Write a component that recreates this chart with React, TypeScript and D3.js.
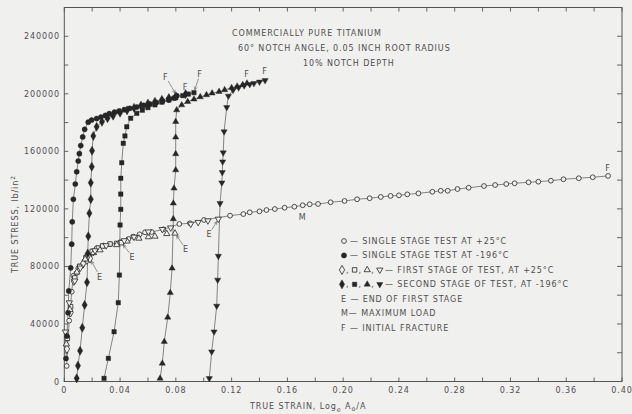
import React from "react";
import * as d3 from "d3";

// True strain (log_e A0/A) and true stress (lb/in^2) readings for each test.
const singleWarm: [number, number][] = [
  [0.0017, 10800], [0.0035, 42300], [0.0053, 62400], [0.0065, 73500], [0.0089, 75500],
  [0.0125, 80500], [0.0163, 85500], [0.02, 89000], [0.0232, 92600], [0.028, 94500],
  [0.0328, 95400], [0.04, 96800], [0.046, 99100], [0.0495, 100700], [0.054, 102300],
  [0.0579, 103700], [0.0627, 103900], [0.071, 105800], [0.0825, 109500], [0.0902, 110000],
  [0.1002, 112300], [0.1189, 115300], [0.1284, 116400], [0.133, 117600], [0.14, 118300],
  [0.145, 119200], [0.151, 119900], [0.158, 120800], [0.165, 121500], [0.171, 122500],
  [0.176, 123200], [0.182, 123400], [0.191, 124600], [0.201, 125500], [0.21, 126700],
  [0.219, 127400], [0.227, 128300], [0.234, 129000], [0.24, 129400], [0.246, 130100],
  [0.254, 130800], [0.264, 131900], [0.27, 132600], [0.275, 132600], [0.282, 133800],
  [0.29, 134700], [0.301, 135900], [0.309, 136600], [0.317, 137300], [0.323, 137800],
  [0.333, 138500], [0.34, 138900], [0.349, 139600], [0.358, 140600], [0.369, 141300],
  [0.379, 142000], [0.39, 142900],
];

const singleCold: [number, number][] = [
  [0.0012, 16000], [0.0019, 31600], [0.0027, 47800], [0.0032, 63000], [0.0046, 79000],
  [0.0053, 95500], [0.0057, 111000], [0.0065, 126700], [0.0079, 137300], [0.0089, 145800],
  [0.01, 153300], [0.0108, 158400], [0.0118, 164000], [0.0132, 170000], [0.0146, 175300],
  [0.0172, 180300], [0.0196, 181800], [0.0232, 182800], [0.0263, 183800], [0.0295, 185000],
  [0.0323, 186200], [0.036, 187200], [0.0392, 188000], [0.043, 189000], [0.047, 189900],
  [0.052, 190800], [0.057, 192000], [0.0615, 192900], [0.066, 193900], [0.0705, 194800],
  [0.075, 195700], [0.0785, 197000], [0.0806, 198700],
];

// First stage at +25 C (open markers), each ending at point E.
const firstDiamond: [number, number][] = [
  [0.0019, 22600], [0.0045, 48000], [0.0068, 70000], [0.0101, 78700], [0.0135, 82000],
  [0.0163, 84500], [0.0184, 85500],
];
const firstSquare: [number, number][] = [
  [0.0022, 30000], [0.0045, 52000], [0.0075, 72000], [0.011, 80000], [0.0155, 86000],
  [0.02, 90500], [0.0245, 92800], [0.0275, 94200], [0.0328, 95600], [0.0376, 96000],
  [0.041, 96500],
];
const firstTriUp: [number, number][] = [
  [0.0015, 26000], [0.004, 50000], [0.009, 76000], [0.015, 85000], [0.021, 89500],
  [0.0256, 91400], [0.0376, 95000], [0.045, 97500], [0.0535, 99500], [0.0603, 100500],
  [0.065, 100900], [0.0735, 102700], [0.0794, 103000],
];
const firstTriDown: [number, number][] = [
  [0.0008, 34500], [0.0036, 54800], [0.0075, 70000], [0.0115, 79000], [0.017, 87000],
  [0.022, 91000], [0.03, 94500], [0.043, 98000], [0.05, 100500], [0.0603, 104100],
  [0.0703, 105800], [0.0763, 106900], [0.0907, 109500], [0.096, 110700], [0.103, 111800],
  [0.1105, 113000],
];

// Second stage at -196 C (filled markers), each ending at fracture F.
const secondDiamond: [number, number][] = [
  [0.0089, 2200], [0.0098, 11000], [0.0113, 21400], [0.0129, 37400], [0.0146, 53200],
  [0.0163, 69000], [0.0168, 89000], [0.0172, 101000], [0.018, 117000], [0.019, 126700],
  [0.019, 138200], [0.0197, 149300], [0.0199, 160400], [0.0208, 170700], [0.0232, 177100],
  [0.027, 180500], [0.031, 183000], [0.035, 184800], [0.04, 186800], [0.045, 188500],
  [0.05, 190200], [0.055, 191800], [0.06, 193200], [0.065, 194500], [0.07, 195800],
  [0.075, 197000], [0.08, 198200], [0.087, 199800],
];
const secondSquare: [number, number][] = [
  [0.0285, 2200], [0.0316, 16100], [0.0357, 34600], [0.0387, 54800], [0.0395, 74000],
  [0.04, 108800], [0.0405, 119700], [0.0405, 130300], [0.0405, 141300], [0.0412, 152100],
  [0.0423, 165600], [0.0435, 170700], [0.0448, 177100], [0.0476, 183000], [0.052, 186400],
  [0.056, 188600], [0.06, 190400], [0.065, 192300], [0.07, 194200], [0.075, 195800],
  [0.08, 197300], [0.085, 198700], [0.089, 199800], [0.093, 200800],
];
const secondTriUp: [number, number][] = [
  [0.0687, 2200], [0.0703, 12600], [0.0717, 27700], [0.0742, 44600], [0.076, 61700],
  [0.0773, 78700], [0.0782, 113000], [0.0782, 123900], [0.0787, 134300], [0.0799, 147000],
  [0.0799, 158200], [0.0799, 169800], [0.0799, 180600], [0.0806, 188700], [0.0842, 192200],
  [0.0885, 194500], [0.093, 196200], [0.0975, 197800], [0.102, 199200], [0.106, 200400],
  [0.111, 201500], [0.115, 202700], [0.12, 204200], [0.124, 205200], [0.128, 206300],
  [0.131, 207300],
];
const secondTriDown: [number, number][] = [
  [0.104, 2200], [0.1057, 20700], [0.1074, 34600], [0.1093, 52500], [0.11, 70600],
  [0.1105, 87200], [0.1117, 123900], [0.113, 138200], [0.1133, 145400], [0.1136, 152800],
  [0.114, 159100], [0.1146, 173700], [0.1165, 190600], [0.1177, 198500], [0.121, 202500],
  [0.125, 204300], [0.129, 205700], [0.133, 206600], [0.136, 207300], [0.14, 208300],
  [0.144, 209300],
];

const xTicks = d3.range(0, 0.4001, 0.02);
const yTicks = d3.range(0, 260001, 20000);
const xLabelTicks = [0, 0.04, 0.08, 0.12, 0.16, 0.2, 0.24, 0.28, 0.32, 0.36, 0.4];
const yLabelTicks = [0, 40000, 80000, 120000, 160000, 200000, 240000];

const titleLines = [
  { text: "COMMERCIALLY PURE TITANIUM", x: 232, y: 36 },
  { text: "60° NOTCH ANGLE, 0.05 INCH ROOT RADIUS", x: 238, y: 51 },
  { text: "10% NOTCH DEPTH", x: 303, y: 66 },
];

const W = 632;
const H = 414;
const L = 64.3, R = 622, T = 7.5, B = 381.5;
const BG = "#f0f0ee";
const INK = "#262626";
const TXT = "#4f4f4f";
const FONT = "'DejaVu Sans', sans-serif";

type Shape = "circle" | "diamond" | "square" | "triUp" | "triDown";

function Marker({ shape, cx, cy, filled }: { shape: Shape; cx: number; cy: number; filled: boolean }) {
  const fill = filled ? INK : BG;
  const stroke = INK;
  const sw = filled ? 0.4 : 0.8;
  if (shape === "circle") {
    return <circle cx={cx} cy={cy} r={filled ? 2.6 : 2.4} fill={fill} stroke={stroke} strokeWidth={sw} />;
  }
  const sym =
    shape === "diamond" ? d3.symbolDiamond : shape === "square" ? d3.symbolSquare : d3.symbolTriangle;
  const size = shape === "diamond" ? 24 : shape === "square" ? 20 : 17;
  const rot = shape === "triDown" ? 180 : 0;
  const path = d3.symbol().type(sym).size(size)() as string;
  return (
    <path
      d={path}
      transform={`translate(${cx},${cy}) rotate(${rot})`}
      fill={fill}
      stroke={stroke}
      strokeWidth={sw}
    />
  );
}

export default function App() {
  const x = d3.scaleLinear().domain([0, 0.4]).range([L, R]);
  const y = d3.scaleLinear().domain([0, 260000]).range([B, T]);
  const line = d3
    .line<[number, number]>()
    .x((d) => x(d[0]))
    .y((d) => y(d[1]));

  const series: { data: [number, number][]; shape: Shape; filled: boolean; joined: boolean }[] = [
    { data: singleWarm, shape: "circle", filled: false, joined: true },
    { data: firstDiamond, shape: "diamond", filled: false, joined: false },
    { data: firstSquare, shape: "square", filled: false, joined: false },
    { data: firstTriUp, shape: "triUp", filled: false, joined: false },
    { data: firstTriDown, shape: "triDown", filled: false, joined: false },
    { data: singleCold, shape: "circle", filled: true, joined: true },
    { data: secondDiamond, shape: "diamond", filled: true, joined: true },
    { data: secondSquare, shape: "square", filled: true, joined: true },
    { data: secondTriUp, shape: "triUp", filled: true, joined: true },
    { data: secondTriDown, shape: "triDown", filled: true, joined: true },
  ];

  const last = (d: [number, number][]) => d[d.length - 1];

  // End-of-first-stage labels: offset of the letter from the final point of each run.
  const eLabels = [
    { p: last(firstDiamond), dx: 10, dy: 18 },
    { p: last(firstSquare), dx: 11, dy: 14 },
    { p: last(firstTriUp), dx: 11, dy: 16 },
    { p: last(firstTriDown), dx: -9, dy: 15 },
  ];
  // Fracture labels; arrow drawn when the letter sits off to the side.
  const fLabels = [
    { p: last(singleCold), dx: -11, dy: -19, arrow: true },
    { p: last(secondDiamond), dx: 0, dy: -7, arrow: false },
    { p: last(secondSquare), dx: 6, dy: -19, arrow: true },
    { p: last(secondTriUp), dx: 0, dy: -9, arrow: false },
    { p: last(secondTriDown), dx: 0, dy: -9, arrow: false },
    { p: last(singleWarm), dx: 0, dy: -8, arrow: false },
  ];
  const mPoint: [number, number] = [0.171, 122500];

  const arrowPath = (lx: number, ly: number, px: number, py: number) => {
    const dx = px - lx, dy = py - ly;
    const len = Math.hypot(dx, dy);
    const ux = dx / len, uy = dy / len;
    const sx = lx + ux * 5, sy = ly + uy * 5;
    const ex = px - ux * 3, ey = py - uy * 3;
    const hx1 = ex - ux * 3 - uy * 1.6, hy1 = ey - uy * 3 + ux * 1.6;
    const hx2 = ex - ux * 3 + uy * 1.6, hy2 = ey - uy * 3 - ux * 1.6;
    return `M${sx},${sy}L${ex},${ey}M${hx1},${hy1}L${ex},${ey}L${hx2},${hy2}`;
  };

  const legendY0 = 241;
  const legendStep = 14.45;
  const ly = (i: number) => legendY0 + i * legendStep;

  const textStyle = { fontFamily: FONT, fontSize: 8, fill: TXT, letterSpacing: 0.9 } as const;

  return (
    <svg
      width={W}
      height={H}
      style={{ position: "absolute", left: 0, top: 0, background: BG }}
      viewBox={`0 0 ${W} ${H}`}
    >
      <rect x={0} y={0} width={W} height={H} fill={BG} />

      {/* frame */}
      <rect x={L} y={T} width={R - L} height={B - T} fill="none" stroke="#555" strokeWidth={1} />

      {/* inward ticks on all four sides */}
      {xTicks.map((t, i) => (
        <g key={"xt" + i} stroke="#555" strokeWidth={0.9}>
          <line x1={x(t)} x2={x(t)} y1={B} y2={B - 4} />
          <line x1={x(t)} x2={x(t)} y1={T} y2={T + 4} />
        </g>
      ))}
      {yTicks.map((t, i) => (
        <g key={"yt" + i} stroke="#555" strokeWidth={0.9}>
          <line x1={L} x2={L + 4} y1={y(t)} y2={y(t)} />
          <line x1={R} x2={R - 5} y1={y(t)} y2={y(t)} />
        </g>
      ))}

      {/* tick labels */}
      {xLabelTicks.map((t, i) => (
        <text key={"xl" + i} x={x(t)} y={393} textAnchor="middle" {...textStyle}>
          {t === 0 ? "0" : d3.format(".2f")(t)}
        </text>
      ))}
      {yLabelTicks.map((t, i) => (
        <text key={"yl" + i} x={60} y={y(t) + 3} textAnchor="end" {...textStyle}>
          {String(t)}
        </text>
      ))}

      {/* axis titles */}
      <text x={250} y={409} {...textStyle}>
        TRUE STRAIN, Log
        <tspan fontSize={6.5} dy={2.5}>e</tspan>
        <tspan dy={-2.5}> A</tspan>
        <tspan fontSize={6.5} dy={2}>o</tspan>
        <tspan dy={-2}>/A</tspan>
      </text>
      <text transform="translate(18,273) rotate(-90)" {...textStyle}>
        TRUE STRESS, lb/in
        <tspan fontSize={6} dy={-3}>2</tspan>
      </text>

      {/* title */}
      {titleLines.map((l, i) => (
        <text key={"ti" + i} x={l.x} y={l.y} {...textStyle}>
          {l.text}
        </text>
      ))}

      {/* connecting lines */}
      {series
        .filter((s) => s.joined)
        .map((s, i) => (
          <path key={"ln" + i} d={line(s.data) as string} fill="none" stroke="#555" strokeWidth={0.7} />
        ))}

      {/* markers */}
      {series.map((s, i) => (
        <g key={"mk" + i}>
          {s.data.map((d, j) => (
            <Marker key={j} shape={s.shape} cx={x(d[0])} cy={y(d[1])} filled={s.filled} />
          ))}
        </g>
      ))}

      {/* E labels */}
      {eLabels.map((e, i) => {
        const px = x(e.p[0]), py = y(e.p[1]);
        const lx = px + e.dx, lyy = py + e.dy;
        return (
          <g key={"e" + i}>
            <path d={arrowPath(lx, lyy, px, py)} fill="none" stroke="#555" strokeWidth={0.6} />
            <text x={lx} y={lyy + 3} textAnchor="middle" {...textStyle}>E</text>
          </g>
        );
      })}

      {/* F labels */}
      {fLabels.map((f, i) => {
        const px = x(f.p[0]), py = y(f.p[1]);
        const lx = px + f.dx, lyy = py + f.dy;
        return (
          <g key={"f" + i}>
            {f.arrow && (
              <path d={arrowPath(lx, lyy, px, py)} fill="none" stroke="#555" strokeWidth={0.6} />
            )}
            <text x={lx} y={lyy + 3} textAnchor="middle" {...textStyle}>F</text>
          </g>
        );
      })}

      {/* M label */}
      <text x={x(mPoint[0])} y={y(mPoint[1]) + 15} textAnchor="middle" {...textStyle}>M</text>

      {/* legend */}
      <Marker shape="circle" cx={344} cy={ly(0)} filled={false} />
      <text x={350} y={ly(0) + 3} {...textStyle}>— SINGLE STAGE TEST AT +25°C</text>
      <Marker shape="circle" cx={344} cy={ly(1)} filled={true} />
      <text x={350} y={ly(1) + 3} {...textStyle}>— SINGLE STAGE TEST AT -196°C</text>

      {(["diamond", "square", "triUp", "triDown"] as Shape[]).map((s, i) => (
        <g key={"lg3" + i}>
          <Marker shape={s} cx={342 + i * 12.6} cy={ly(2)} filled={false} />
          <Marker shape={s} cx={342 + i * 12.6} cy={ly(3)} filled={true} />
          {i < 3 && (
            <>
              <text x={346 + i * 12.6} y={ly(2) + 3} {...textStyle}>,</text>
              <text x={346 + i * 12.6} y={ly(3) + 3} {...textStyle}>,</text>
            </>
          )}
        </g>
      ))}
      <text x={385} y={ly(2) + 3} {...textStyle}>— FIRST STAGE OF TEST, AT +25°C</text>
      <text x={385} y={ly(3) + 3} {...textStyle}>— SECOND STAGE OF TEST, AT -196°C</text>
      <text x={341} y={ly(4) + 3} {...textStyle}>E — END OF FIRST STAGE</text>
      <text x={341} y={ly(5) + 3} {...textStyle}>M— MAXIMUM LOAD</text>
      <text x={341} y={ly(6) + 3} {...textStyle}>F — INITIAL FRACTURE</text>
    </svg>
  );
}
